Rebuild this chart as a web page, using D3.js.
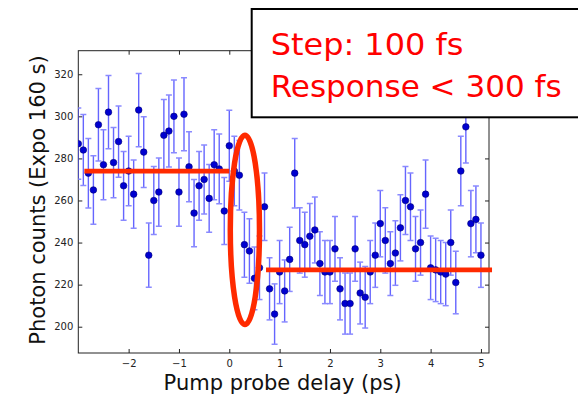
<!DOCTYPE html>
<html>
<head>
<meta charset="utf-8">
<script src="https://cdn.jsdelivr.net/npm/d3@7"></script>
<style>
  html, body { margin: 0; padding: 0; background: #fff; }
  svg { display: block; }
</style>
</head>
<body>
<svg id="chart" width="578" height="398"></svg>
<script>
// ---- data ----
const delays = [
  -3.0, -2.9, -2.8, -2.7, -2.6, -2.5, -2.4, -2.3, -2.2, -2.1,
  -2.0, -1.9, -1.8, -1.7, -1.6, -1.5, -1.4, -1.3, -1.2, -1.1,
  -1.0, -0.9, -0.8, -0.7, -0.6, -0.5, -0.4, -0.3, -0.2, -0.1,
   0.0,  0.1,  0.2,  0.3,  0.4,  0.5,  0.6,  0.7,  0.8,  0.9,
   1.0,  1.1,  1.2,  1.3,  1.4,  1.5,  1.6,  1.7,  1.8,  1.9,
   2.0,  2.1,  2.2,  2.3,  2.4,  2.5,  2.6,  2.7,  2.8,  2.9,
   3.0,  3.1,  3.2,  3.3,  3.4,  3.5,  3.6,  3.7,  3.8,  3.9,
   4.0,  4.1,  4.2,  4.3,  4.4,  4.5,  4.6,  4.7,  4.8,  4.9,
   5.0
];
const counts = [
  287, 284, 273, 265, 296, 277, 302, 278, 288, 267,
  274, 263, 303, 283, 234, 260, 264, 291, 293, 300,
  264, 301, 276, 254, 267, 270, 261, 277, 275, 255,
  286, 274, 272, 239, 236, 223, 228, 257, 218, 206,
  226, 217, 232, 273, 241, 239, 243, 246, 230, 226,
  226, 237, 218, 211, 211, 237, 216, 214, 226, 234,
  249, 241, 230, 235, 247, 260, 257, 237, 240, 263,
  228, 227, 226, 225, 240, 221, 274, 295, 249, 251,
  234
];
// Poisson (shot-noise) error bars: sqrt of counts
const errors = counts.map(c => Math.sqrt(c));

const xTicks = [-2, -1, 0, 1, 2, 3, 4, 5];
const yTicks = [200, 220, 240, 260, 280, 300, 320];

// fitted levels (before / after step)
const levelBefore = { from: -2.88, to: 0.0, value: 274 };
const levelAfter  = { from: 0.73, to: 5.22, value: 227 };
// highlighted transition region (centre and half-extents, data units)
const highlight = { cx: 0.31, cy: 246, rx: 0.29, ry: 45 };

const xLabel = "Pump probe delay (ps)";
const yLabel = "Photon counts (Expo 160 s)";
const noteLines = ["Step: 100 fs", "Response < 300 fs"];

// ---- drawing ----
const svg = d3.select("#chart");
const L = 78.3, R = 489, T = 50.7, B = 353;

const x = d3.scaleLinear().domain([-3.0, 5.16]).range([L, R]);
const y = d3.scaleLinear().domain([187.5, 331.2]).range([B, T]);

svg.append("defs").append("clipPath").attr("id", "plotclip")
  .append("rect").attr("x", L).attr("y", T).attr("width", R - L).attr("height", B - T);

const fmt = d => (d < 0 ? "\u2212" + Math.abs(d) : String(d));
const tickFont = "DejaVu Sans, sans-serif";

function styleAxis(g, showText) {
  g.select(".domain").remove();
  g.selectAll(".tick line").attr("stroke", "#222").attr("stroke-width", 1);
  g.selectAll(".tick text")
    .attr("fill", "#222")
    .style("font-family", tickFont)
    .style("font-size", "10px");
  if (!showText) g.selectAll(".tick text").remove();
}

// bottom axis
svg.append("g").attr("transform", `translate(0,${B})`)
  .call(d3.axisBottom(x).tickValues(xTicks).tickFormat(fmt).tickSizeInner(-4).tickSizeOuter(0).tickPadding(7))
  .call(g => styleAxis(g, true));
// top axis
svg.append("g").attr("transform", `translate(0,${T})`)
  .call(d3.axisTop(x).tickValues(xTicks).tickSizeInner(-4).tickSizeOuter(0))
  .call(g => styleAxis(g, false));
// left axis
svg.append("g").attr("transform", `translate(${L},0)`)
  .call(d3.axisLeft(y).tickValues(yTicks).tickSizeInner(-4).tickSizeOuter(0).tickPadding(5))
  .call(g => styleAxis(g, true));
// right axis
svg.append("g").attr("transform", `translate(${R},0)`)
  .call(d3.axisRight(y).tickValues(yTicks).tickSizeInner(-4).tickSizeOuter(0))
  .call(g => styleAxis(g, false));

// frame
svg.append("rect")
  .attr("x", L).attr("y", T).attr("width", R - L).attr("height", B - T)
  .attr("fill", "none").attr("stroke", "#222").attr("stroke-width", 1);

// data
const pts = delays.map((d, i) => ({ x: d, v: counts[i], e: errors[i] }));
const data = svg.append("g").attr("clip-path", "url(#plotclip)");

const capW = 3;
const eb = data.append("g");
eb.selectAll("line.bar").data(pts).join("line").attr("class", "bar")
  .attr("x1", d => x(d.x)).attr("x2", d => x(d.x))
  .attr("y1", d => y(d.v - d.e)).attr("y2", d => y(d.v + d.e))
  .attr("stroke", "#4a4aff").attr("stroke-opacity", 0.85).attr("stroke-width", 1.4);
eb.selectAll("line.capTop").data(pts).join("line").attr("class", "capTop")
  .attr("x1", d => x(d.x) - capW).attr("x2", d => x(d.x) + capW)
  .attr("y1", d => y(d.v + d.e)).attr("y2", d => y(d.v + d.e))
  .attr("stroke", "#8a8aff").attr("stroke-width", 1.5);
eb.selectAll("line.capBot").data(pts).join("line").attr("class", "capBot")
  .attr("x1", d => x(d.x) - capW).attr("x2", d => x(d.x) + capW)
  .attr("y1", d => y(d.v - d.e)).attr("y2", d => y(d.v - d.e))
  .attr("stroke", "#8a8aff").attr("stroke-width", 1.5);

data.append("g").selectAll("circle").data(pts).join("circle")
  .attr("cx", d => x(d.x)).attr("cy", d => y(d.v)).attr("r", 3.3)
  .attr("fill", "#0000d0").attr("stroke", "#00007a").attr("stroke-width", 0.6);

// annotations
const red = "#ff2a00";
[levelBefore, levelAfter].forEach(l => {
  svg.append("line")
    .attr("x1", x(l.from)).attr("x2", x(l.to))
    .attr("y1", y(l.value)).attr("y2", y(l.value))
    .attr("stroke", red).attr("stroke-width", 4.8);
});
svg.append("ellipse")
  .attr("cx", x(highlight.cx)).attr("cy", y(highlight.cy))
  .attr("rx", x(highlight.cx + highlight.rx) - x(highlight.cx))
  .attr("ry", y(highlight.cy) - y(highlight.cy + highlight.ry))
  .attr("fill", "none").attr("stroke", red).attr("stroke-width", 5.5);

// axis labels
svg.append("text")
  .attr("x", (L + R) / 2 - 1).attr("y", 390)
  .attr("text-anchor", "middle")
  .style("font-family", "DejaVu Sans, sans-serif").style("font-size", "21px")
  .attr("fill", "#111")
  .text(xLabel);
svg.append("text")
  .attr("transform", `translate(45,${200}) rotate(-90)`)
  .attr("text-anchor", "middle")
  .style("font-family", "DejaVu Sans, sans-serif").style("font-size", "21px")
  .attr("fill", "#111")
  .text(yLabel);

// note box
const box = svg.append("g");
box.append("rect")
  .attr("x", 251.7).attr("y", 9).attr("width", 340).attr("height", 108.3)
  .attr("fill", "#fff").attr("stroke", "#000").attr("stroke-width", 2);
const noteY = [55, 96.7];
const noteW = [192.7, 291];
noteLines.forEach((t, i) => {
  box.append("text")
    .attr("x", 270.7).attr("y", noteY[i])
    .attr("textLength", noteW[i]).attr("lengthAdjust", "spacingAndGlyphs")
    .style("font-family", "DejaVu Sans, sans-serif").style("font-size", "31px")
    .attr("fill", "#ff0000")
    .text(t);
});
</script>
</body>
</html>
